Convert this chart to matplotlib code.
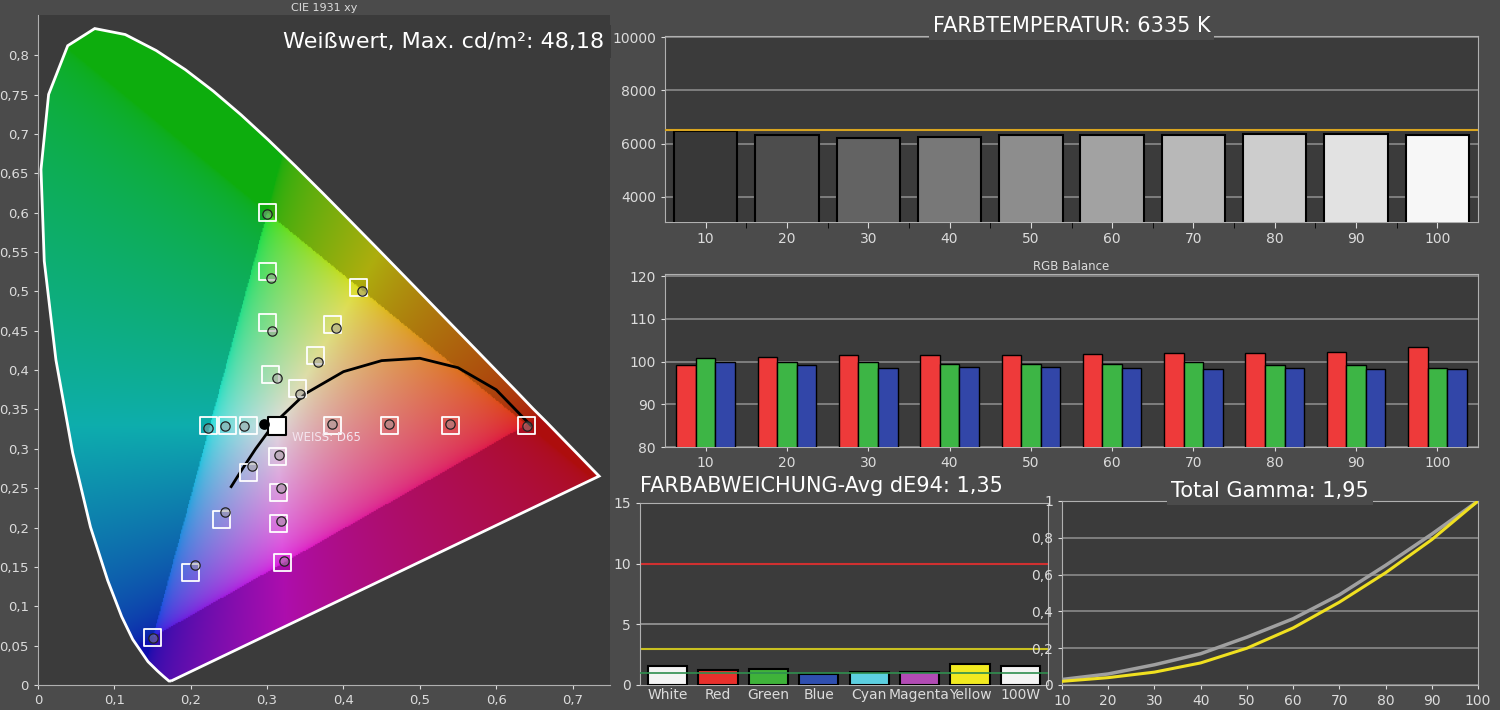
import numpy as np
import matplotlib
matplotlib.use("Agg")
import matplotlib.pyplot as plt
from matplotlib.path import Path as MPath
from matplotlib.patches import PathPatch

# ---- data -------------------------------------------------------------
locus_x = [0.1741, 0.1714, 0.1644, 0.1566, 0.1440, 0.1241, 0.1096, 0.0913, 0.0687, 0.0454,
           0.0235, 0.0082, 0.0039, 0.0139, 0.0389, 0.0743, 0.1142, 0.1547, 0.1929, 0.2296,
           0.2658, 0.3016, 0.3373, 0.3731, 0.4087, 0.4441, 0.4788, 0.5125, 0.5448, 0.5752,
           0.6029, 0.6270, 0.6482, 0.6658, 0.6801, 0.6915, 0.7079, 0.7190, 0.7347]
locus_y = [0.0050, 0.0051, 0.0109, 0.0177, 0.0297, 0.0578, 0.0868, 0.1327, 0.2007, 0.2950,
           0.4127, 0.5384, 0.6548, 0.7502, 0.8120, 0.8338, 0.8262, 0.8059, 0.7816, 0.7543,
           0.7243, 0.6923, 0.6589, 0.6245, 0.5896, 0.5547, 0.5202, 0.4866, 0.4544, 0.4242,
           0.3965, 0.3725, 0.3510, 0.3340, 0.3197, 0.3083, 0.2920, 0.2809, 0.2653]
gamut_x = [0.64, 0.30, 0.15]
gamut_y = [0.33, 0.60, 0.06]
planck_x = [0.253, 0.268, 0.285, 0.31, 0.35, 0.40, 0.45, 0.50, 0.55, 0.60, 0.645]
planck_y = [0.252, 0.275, 0.30, 0.333, 0.37, 0.398, 0.412, 0.415, 0.403, 0.375, 0.33]
target_x = [0.30, 0.30, 0.30, 0.305, 0.42, 0.385, 0.364, 0.34, 0.223, 0.248, 0.275,
            0.385, 0.46, 0.54, 0.64, 0.313, 0.275, 0.24, 0.20, 0.15, 0.315, 0.315, 0.32]
target_y = [0.60, 0.525, 0.46, 0.395, 0.505, 0.458, 0.418, 0.376, 0.33, 0.33, 0.33,
            0.33, 0.33, 0.33, 0.33, 0.29, 0.27, 0.21, 0.143, 0.06, 0.245, 0.205, 0.155]
meas_x = [0.30, 0.305, 0.307, 0.313, 0.424, 0.39, 0.367, 0.343, 0.223, 0.245, 0.27,
          0.385, 0.46, 0.54, 0.64, 0.316, 0.28, 0.245, 0.205, 0.15, 0.318, 0.318, 0.322]
meas_y = [0.598, 0.517, 0.449, 0.39, 0.50, 0.453, 0.41, 0.369, 0.327, 0.329, 0.329,
          0.331, 0.331, 0.331, 0.329, 0.292, 0.278, 0.22, 0.152, 0.06, 0.25, 0.208, 0.158]
white_target = (0.3127, 0.329)
white_meas = (0.296, 0.331)

levels = ["10", "20", "30", "40", "50", "60", "70", "80", "90", "100"]
cct = [6480, 6320, 6200, 6260, 6320, 6320, 6320, 6370, 6370, 6330]
rgb_r = [99.3, 101.0, 101.5, 101.5, 101.5, 101.8, 102.0, 102.0, 102.3, 103.5]
rgb_g = [100.8, 99.8, 99.8, 99.5, 99.5, 99.5, 99.8, 99.3, 99.3, 98.5]
rgb_b = [99.8, 99.3, 98.5, 98.8, 98.8, 98.5, 98.2, 98.5, 98.2, 98.2]

de_names = ["White", "Red", "Green", "Blue", "Cyan", "Magenta", "Yellow", "100W"]
de_vals = [1.6, 1.2, 1.3, 0.9, 1.1, 1.1, 1.7, 1.6]
de_colors = ["#f4f4f4", "#e8302c", "#3fb33a", "#2f4fb0", "#5ccfe0", "#b14bb4", "#f2ea20", "#f4f4f4"]

gamma_x = [10, 20, 30, 40, 50, 60, 70, 80, 90, 100]
gamma_ref = [0.03, 0.06, 0.11, 0.17, 0.26, 0.36, 0.49, 0.65, 0.82, 1.0]
gamma_meas = [0.02, 0.04, 0.07, 0.12, 0.20, 0.31, 0.45, 0.61, 0.79, 1.0]

FIG_BG = "#4b4b4b"
AX_BG = "#3b3b3b"
TXT = "#dcdcdc"
GRID = "#8a8a8a"

fig = plt.figure(figsize=(15, 7.1), dpi=100, facecolor=FIG_BG)
W, H = 1500, 710


def add_ax(l, t, r, b):
    ax = fig.add_axes([l / W, 1 - b / H, (r - l) / W, (b - t) / H])
    ax.set_facecolor(AX_BG)
    for s in ax.spines.values():
        s.set_color("#b0b0b0")
    ax.tick_params(colors=TXT, labelsize=10, length=3)
    return ax


# ---- CIE diagram ------------------------------------------------------
ax = add_ax(38, 15, 610, 685)
ax.set_xlim(0, 0.749)
ax.set_ylim(0, 0.851)
n = 500
xx, yy = np.meshgrid(np.linspace(0.0, 0.75, n), np.linspace(0.0, 0.85, n))
yy_s = np.maximum(yy, 1e-3)
X = xx / yy_s
Z = (1 - xx - yy) / yy_s
R = 3.2406 * X - 1.5372 - 0.4986 * Z
G = -0.9689 * X + 1.8758 + 0.0415 * Z
B = 0.0557 * X - 0.2040 + 1.0570 * Z
rgb = np.clip(np.dstack([R, G, B]), 0, None)
rgb = rgb / np.maximum(rgb.max(axis=2, keepdims=True), 1e-6)
rgb = np.clip(rgb, 0, 1) ** (1 / 2.2)
rgb = rgb * 0.8 + 0.07
tri = MPath(np.column_stack([gamut_x, gamut_y]))
inside = tri.contains_points(np.column_stack([xx.ravel(), yy.ravel()])).reshape(n, n)
rgb[~inside] *= 0.78
img = ax.imshow(rgb, extent=(0, 0.75, 0, 0.85), origin="lower", aspect="auto", zorder=1)
locus = np.column_stack([locus_x + [locus_x[0]], locus_y + [locus_y[0]]])
patch = PathPatch(MPath(locus), facecolor="none", edgecolor="white", lw=2, zorder=3)
ax.add_patch(patch)
img.set_clip_path(patch)
ax.plot(planck_x, planck_y, color="black", lw=2, zorder=4)
ax.scatter(target_x, target_y, s=150, marker="s", facecolor="none", edgecolor="white", lw=1.3, zorder=5)
ax.scatter(meas_x, meas_y, s=45, facecolor=(0.6, 0.6, 0.6, 0.45), edgecolor="#222222", lw=0.9, zorder=6)
ax.scatter(*white_target, s=150, marker="s", facecolor="white", edgecolor="black", lw=1.5, zorder=6)
ax.scatter(*white_meas, s=45, color="black", zorder=7)
ax.text(0.333, 0.31, "WEISS: D65", color="#f4e4ee", fontsize=8.5, zorder=7)
ax.set_xticks([0, 0.1, 0.2, 0.3, 0.4, 0.5, 0.6, 0.7])
ax.set_xticklabels(["0", "0,1", "0,2", "0,3", "0,4", "0,5", "0,6", "0,7"])
yt = [0, 0.05, 0.1, 0.15, 0.2, 0.25, 0.3, 0.35, 0.4, 0.45, 0.5, 0.55, 0.6, 0.65, 0.7, 0.75, 0.8]
ax.set_yticks(yt)
ax.set_yticklabels(["0"] + [f"{v:g}".replace(".", ",") for v in yt[1:]])
ax.tick_params(labelsize=9.5)
ax.spines["top"].set_visible(False)
ax.spines["right"].set_visible(False)
ax.set_title("CIE 1931 xy", color=TXT, fontsize=8, pad=3)
ax.text(0.99, 0.975, "Weißwert, Max. cd/m²: 48,18", transform=ax.transAxes, ha="right", va="top",
        color="white", fontsize=16, zorder=8,
        bbox=dict(boxstyle="square,pad=0.3", fc=AX_BG, ec="none"))

# ---- Farbtemperatur ---------------------------------------------------
ax = add_ax(665, 36, 1478, 222)
pos = np.arange(len(levels))
grays = np.linspace(0.22, 0.97, len(levels))
ax.bar(pos, cct, width=0.78, color=[(g, g, g) for g in grays], edgecolor="black", lw=1.5, zorder=3)
ax.axhline(6500, color="#d9a520", lw=1.5, zorder=4)
ax.set_ylim(3050, 10050)
ax.set_xlim(-0.5, len(levels) - 0.5)
ax.set_yticks([4000, 6000, 8000, 10000])
ax.set_xticks(pos)
ax.set_xticklabels(levels)
ax.set_xticks(pos[:-1] + 0.5, minor=True)
ax.tick_params(axis="x", which="both", length=4)
ax.grid(axis="y", color=GRID, lw=1.2, zorder=0)
ax.set_title("FARBTEMPERATUR: 6335 K", color="white", fontsize=15, pad=-2,
             bbox=dict(boxstyle="square,pad=0.2", fc=FIG_BG, ec="none"))

# ---- RGB balance ------------------------------------------------------
ax = add_ax(665, 274, 1478, 447)
bw = 0.24
ax.bar(pos - bw, rgb_r, width=bw, color="#ee3a3a", edgecolor="black", lw=1, zorder=3)
ax.bar(pos, rgb_g, width=bw, color="#3db545", edgecolor="black", lw=1, zorder=3)
ax.bar(pos + bw, rgb_b, width=bw, color="#3246a8", edgecolor="black", lw=1, zorder=3)
ax.set_ylim(80, 120.5)
ax.set_xlim(-0.5, len(levels) - 0.5)
ax.set_yticks([80, 90, 100, 110, 120])
ax.set_xticks(pos)
ax.set_xticklabels(levels)
ax.grid(axis="y", color=GRID, lw=1.2, zorder=0)
ax.set_title("RGB Balance", color=TXT, fontsize=8.5, pad=3)

# ---- Farbabweichung ---------------------------------------------------
ax = add_ax(640, 503, 1048, 685)
dp = np.arange(len(de_names))
ax.bar(dp, de_vals, width=0.78, color=de_colors, edgecolor="black", lw=1.5, zorder=3)
ax.axhline(10, color="#d03030", lw=1.5, zorder=2)
ax.axhline(5, color="#999999", lw=1.2, zorder=2)
ax.axhline(3, color="#c8c020", lw=1.5, zorder=2)
ax.axhline(1, color="#2f8f4f", lw=1.2, zorder=4)
ax.set_ylim(0, 15)
ax.set_xlim(-0.55, len(de_names) - 0.45)
ax.set_yticks([0, 5, 10, 15])
ax.set_xticks(dp)
ax.set_xticklabels(de_names, fontsize=10)
ax.tick_params(axis="x", length=0, pad=2)
ax.text(0, 1.04, "FARBABWEICHUNG-Avg dE94: 1,35", transform=ax.transAxes, color="white",
        fontsize=15, ha="left", va="bottom")

# ---- Gamma ------------------------------------------------------------
ax = add_ax(1062, 501, 1478, 685)
ax.plot(gamma_x, gamma_ref, color="#a0a0a0", lw=2.5, zorder=3)
ax.plot(gamma_x, gamma_meas, color="#f0e020", lw=2.2, zorder=4)
ax.set_xlim(10, 100)
ax.set_ylim(0, 1)
ax.set_xticks(gamma_x)
ax.set_yticks([0, 0.2, 0.4, 0.6, 0.8, 1])
ax.set_yticklabels(["0", "0,2", "0,4", "0,6", "0,8", "1"])
ax.grid(axis="y", color=GRID, lw=1.2, zorder=0)
ax.set_title("Total Gamma: 1,95", color="white", fontsize=15, pad=-2,
             bbox=dict(boxstyle="square,pad=0.2", fc=FIG_BG, ec="none"))

fig.savefig("out.png", dpi=100, facecolor=FIG_BG)
